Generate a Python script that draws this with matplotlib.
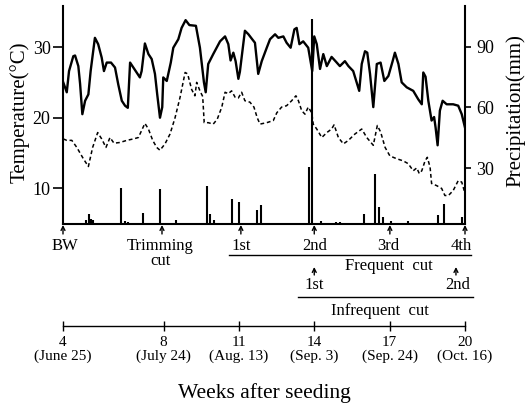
import matplotlib
matplotlib.use("Agg")
import matplotlib.pyplot as plt
import matplotlib.transforms as mtransforms

plt.rcParams['font.family'] = ['Liberation Serif', 'DejaVu Serif']

# datos (semanas despues de la siembra)
semanas_max = [4.01, 4.15, 4.24, 4.41, 4.48, 4.61, 4.68, 4.77, 4.88, 5.01, 5.10, 5.27, 5.40, 5.54,
               5.63, 5.74, 5.91, 6.07, 6.20, 6.34, 6.47, 6.58, 6.67, 6.80, 6.93, 7.06, 7.13, 7.26,
               7.40, 7.53, 7.66, 7.75, 7.86, 7.95, 7.99, 8.13, 8.29, 8.39, 8.59, 8.72, 8.88, 9.03,
               9.29, 9.45, 9.61, 9.68, 9.78, 9.98, 10.25, 10.45, 10.58, 10.67, 10.78, 10.87, 10.98,
               11.04, 11.24, 11.38, 11.53, 11.64, 11.77, 11.91, 12.11, 12.24, 12.44, 12.57, 12.77,
               12.90, 13.06, 13.21, 13.30, 13.41, 13.56, 13.76, 13.92, 14.00, 14.10, 14.23, 14.36,
               14.50, 14.69, 14.87, 15.02, 15.22, 15.36, 15.55, 15.79, 15.89, 16.02, 16.11, 16.22,
               16.35, 16.49, 16.64, 16.79, 16.95, 17.12, 17.21, 17.35, 17.48, 17.68, 17.94, 18.14,
               18.28, 18.34, 18.43, 18.54, 18.67, 18.77, 18.83, 18.91, 19.00, 19.11, 19.27, 19.53,
               19.73, 19.87, 20.00]
temp_max = [25.0, 23.6, 26.6, 28.7, 28.8, 27.3, 24.8, 20.5, 22.4, 23.3, 26.6, 31.3, 30.4, 28.5,
            26.6, 27.8, 27.8, 27.1, 24.7, 22.4, 21.7, 21.4, 27.8, 27.1, 26.4, 25.7, 26.6, 30.5,
            29.0, 28.3, 26.2, 23.3, 20.0, 21.5, 25.7, 25.2, 27.8, 29.9, 31.1, 32.7, 33.8, 33.1,
            33.0, 29.9, 25.0, 23.6, 27.6, 29.0, 30.8, 31.5, 30.4, 28.1, 29.2, 28.0, 25.5,
            26.5, 32.3, 31.8, 31.1, 30.6, 26.2, 28.0, 29.9, 31.1, 31.8, 31.3, 31.5,
            30.6, 29.9, 32.5, 32.7, 30.4, 30.8, 29.9, 26.6, 31.5, 30.4, 26.9, 29.0,
            27.3, 28.6, 27.9, 27.3, 28.0, 27.3, 26.6, 23.8, 27.6, 29.4, 29.2, 26.2,
            21.5, 27.6, 27.8, 25.2, 25.9, 28.0, 29.2, 27.6, 25.0, 24.3, 23.8, 22.6,
            21.9, 26.4, 25.8, 22.4, 19.6, 20.1, 18.6, 16.1, 21.0, 22.4, 21.9, 21.9,
            21.7, 20.5, 18.6]

semanas_min = [4.01, 4.15, 4.35, 4.55, 4.81, 5.01, 5.18, 5.38, 5.54, 5.71, 5.87, 6.03, 6.27, 6.54,
               6.80, 7.00, 7.13, 7.26, 7.40, 7.57, 7.73, 7.86, 8.06, 8.26, 8.46, 8.66, 8.86, 8.96,
               9.12, 9.25, 9.32, 9.45, 9.56, 9.62, 9.78, 9.98, 10.14, 10.32, 10.45, 10.58, 10.71,
               10.85, 10.98, 11.11, 11.24, 11.44, 11.60, 11.73, 11.84, 12.11, 12.37, 12.51, 12.70,
               12.90, 13.10, 13.27, 13.37, 13.50, 13.63, 13.76, 13.90, 13.96, 14.10, 14.30, 14.50,
               14.69, 14.79, 14.96, 15.16, 15.36, 15.62, 15.89, 16.09, 16.35, 16.51, 16.64, 16.82,
               17.01, 17.28, 17.54, 17.74, 17.94, 18.08, 18.18, 18.28, 18.41, 18.50, 18.61, 18.67,
               18.87, 19.07, 19.20, 19.34, 19.53, 19.73, 19.87, 20.00]
temp_min = [17.0, 16.8, 16.8, 15.8, 14.2, 13.1, 15.8, 17.9, 17.0, 15.8, 17.2, 16.4, 16.5, 16.8,
            17.0, 17.2, 18.2, 19.2, 18.4, 16.8, 15.8, 15.4, 16.3, 17.7, 20.0, 22.9, 26.4, 26.2,
            24.0, 23.1, 25.0, 23.8, 23.0, 19.3, 19.3, 19.1, 19.8, 21.5, 23.6, 23.4, 23.8,
            22.9, 22.8, 23.6, 22.4, 22.2, 21.5, 20.0, 19.1, 19.3, 19.6, 20.7, 21.5,
            21.7, 22.4, 23.1, 22.4, 21.0, 20.5, 21.5, 20.7, 19.1, 18.4, 17.2, 17.9,
            18.4, 19.0, 17.2, 16.3, 16.8, 17.7, 18.4, 17.2, 16.1, 18.9, 18.0, 15.8,
            14.6, 14.2, 13.9, 13.5, 12.5, 12.9, 12.1, 12.5, 13.9, 14.4, 13.0, 10.7,
            10.4, 10.0, 9.0, 9.0, 9.7, 11.1, 10.9, 9.3]

semanas_lluvia = [4.92, 5.05, 5.11, 5.18, 6.30, 6.47, 6.60, 7.18, 7.86, 8.49, 9.72, 9.87, 10.00,
                  10.71, 11.01, 11.71, 11.88, 13.80, 13.92, 14.28, 14.88, 15.02, 15.99, 16.43,
                  16.59, 16.74, 17.07, 17.72, 18.94, 19.16, 19.87]
lluvia = [4.1, 7.3, 5.0, 4.5, 19.9, 3.8, 3.5, 7.8, 19.4, 4.4, 21.1, 7.3, 4.2,
          14.9, 13.1, 9.2, 11.6, 30.5, 103.6, 3.8, 3.5, 3.5, 7.1, 27.0,
          10.5, 5.7, 4.0, 4.0, 6.7, 12.1, 5.8]

# cortes
cortes_sem = [4, 7.94, 11.08, 14.0, 17.01, 20.0]
cortes_txt = ["BW", "Trimming", "1st", "2nd", "3rd", "4th"]
cortes_txt_x = [4.08, 7.88, 11.08, 14.03, 16.94, 19.84]
infreq_sem = [14.0, 19.64]
infreq_txt = ["1st", "2nd"]

ticks_sem = [4, 8, 11, 14, 17, 20]
ticks_txt = ["4\n(June 25)", "8\n(July 24)", "11\n(Aug. 13)", "14\n(Sep. 3)",
             "17\n(Sep. 24)", "20\n(Oct. 16)"]

W, H = 525, 403
fig = plt.figure(figsize=(W / 100, H / 100), dpi=100)


def fy(p):
    # posicion vertical en pixeles (desde arriba) -> fraccion de figura
    return 1 - p / H


ax = fig.add_axes([63 / W, fy(224), 402 / W, fy(6) - fy(224)])
ax2 = ax.twinx()

ax.plot(semanas_max, temp_max, color="black", lw=1.7)
ax.plot(semanas_min, temp_min, color="black", lw=1.1, linestyle=(0, (2.5, 1.8)))
ax2.vlines(semanas_lluvia, 0, lluvia, color="black", lw=1.5)

ax.set_xlim(4, 20)
ax.set_ylim(4.97, 35.8)
ax2.set_ylim(2.3, 110.2)
ax.set_yticks([10, 20, 30])
ax2.set_yticks([30, 60, 90])
ax.set_xticks([])

for a in (ax, ax2):
    a.spines["top"].set_visible(False)
    for s in a.spines.values():
        s.set_linewidth(1.5)
ax.spines["right"].set_visible(False)
ax2.spines["left"].set_visible(False)
ax2.spines["bottom"].set_visible(False)

ax.tick_params(axis="y", direction="out", length=7, width=1.2, pad=2, labelsize=13)
ax2.tick_params(axis="y", direction="out", length=4, width=1.2, pad=4, labelsize=13)

fig.text(20 / W, fy(112), "Temperature(°C)", rotation=90, ha="center", va="center", fontsize=15)
fig.text(516 / W, fy(111), "Precipitation(mm)", rotation=90, ha="center", va="center", fontsize=15)

# anotaciones debajo del eje
tr = mtransforms.blended_transform_factory(ax.transData, fig.transFigure)
flecha = dict(arrowstyle="->", lw=1.0, color="black", shrinkA=0, shrinkB=0, mutation_scale=7)

for w in cortes_sem:
    ax.annotate("", xy=(w, fy(225)), xytext=(w, fy(234)), xycoords=tr, textcoords=tr,
                arrowprops=flecha, annotation_clip=False)
for x, t in zip(cortes_txt_x, cortes_txt):
    ax.text(x, fy(246), t, transform=tr, ha="center", va="center", fontsize=12)
ax.text(7.88, fy(261), "cut", transform=tr, ha="center", va="center", fontsize=12)

# frecuente
ax.plot([10.61, 20.25], [fy(255), fy(255)], transform=tr, color="black", lw=1.0, clip_on=False)
ax.text(16.97, fy(266), "Frequent  cut", transform=tr, ha="center", va="center", fontsize=12)
for w in infreq_sem:
    ax.annotate("", xy=(w, fy(267)), xytext=(w, fy(275)), xycoords=tr, textcoords=tr,
                arrowprops=flecha, annotation_clip=False)
ax.text(14.0, fy(285), infreq_txt[0], transform=tr, ha="center", va="center", fontsize=12)
ax.text(19.7, fy(285), infreq_txt[1], transform=tr, ha="center", va="center", fontsize=12)

# infrecuente
ax.plot([13.35, 20.3], [fy(297), fy(297)], transform=tr, color="black", lw=1.0, clip_on=False)
ax.text(16.6, fy(311), "Infrequent  cut", transform=tr, ha="center", va="center", fontsize=12)

# linea de tiempo
ax3 = fig.add_axes([63 / W, fy(326), 402 / W, 0.01])
ax3.set_xlim(4, 20)
ax3.set_yticks([])
for s in ["top", "left", "right"]:
    ax3.spines[s].set_visible(False)
ax3.spines["bottom"].set_bounds(4, 20)
ax3.spines["bottom"].set_linewidth(1.0)
ax3.patch.set_visible(False)
ax3.set_xticks(ticks_sem)
ax3.set_xticklabels(ticks_txt, fontsize=11)
for lbl in ax3.get_xticklabels():
    lbl.set_linespacing(1.05)
ax3.tick_params(axis="x", direction="inout", length=7, width=1.0, pad=4)
ax3.set_xlabel("Weeks after seeding", fontsize=15.5, labelpad=14)

fig.savefig("out.png", dpi=100)
